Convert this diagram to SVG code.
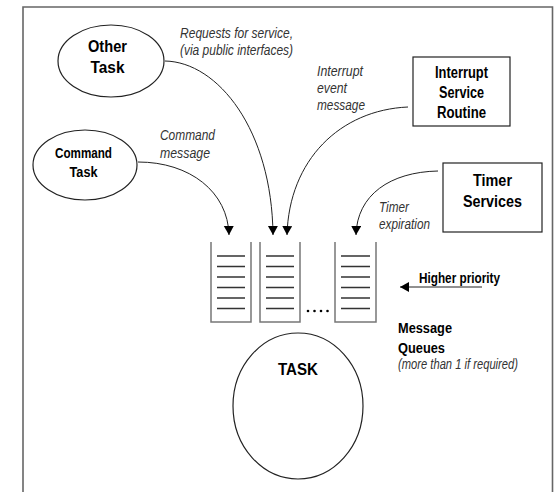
<svg xmlns="http://www.w3.org/2000/svg" width="554" height="492" viewBox="0 0 554 492">
  <defs>
    <marker id="head" markerUnits="userSpaceOnUse" markerWidth="10" markerHeight="12" refX="9" refY="5" orient="auto">
      <path d="M0,0 L9,5 L0,10 Z" fill="#000"/>
    </marker>
    <style>
      .frame { fill: none; stroke: #666; stroke-width: 1.6; }
      .node { fill: #fff; stroke: #222; stroke-width: 1.2; }
      .queue { fill: none; stroke: #777; stroke-width: 1.5; }
      .slot { stroke: #333; stroke-width: 1.3; }
      .conn { fill: none; stroke: #222; stroke-width: 1; marker-end: url(#head); }
      .bold { font-family: "Liberation Sans", Arial, sans-serif; font-weight: bold; fill: #000; }
      .note { font-family: "Liberation Sans", Arial, sans-serif; font-style: italic; fill: #333; font-size: 14.5px; }
    </style>
  </defs>
  <rect width="554" height="492" fill="#fff"/>
  <!-- outer frame, open at the bottom -->
  <path class="frame" d="M23,500 V7 H552.5 V500"/>

  <g id="other-task">
    <ellipse class="node" cx="111" cy="61" rx="53" ry="36"/>
    <text class="bold" font-size="16.5" text-anchor="middle" x="107.5" y="52" textLength="39" lengthAdjust="spacingAndGlyphs">Other</text>
    <text class="bold" font-size="16.5" text-anchor="middle" x="107.5" y="73" textLength="34" lengthAdjust="spacingAndGlyphs">Task</text>
  </g>

  <g id="command-task">
    <ellipse class="node" cx="85" cy="165" rx="52" ry="35"/>
    <text class="bold" font-size="15" text-anchor="middle" x="83.5" y="158" textLength="57" lengthAdjust="spacingAndGlyphs">Command</text>
    <text class="bold" font-size="15" text-anchor="middle" x="83.5" y="177" textLength="28" lengthAdjust="spacingAndGlyphs">Task</text>
  </g>

  <g id="isr">
    <rect class="node" x="413" y="57" width="97" height="69"/>
    <text class="bold" font-size="16" text-anchor="middle" x="461.5" y="78" textLength="53" lengthAdjust="spacingAndGlyphs">Interrupt</text>
    <text class="bold" font-size="16" text-anchor="middle" x="461.5" y="98" textLength="45" lengthAdjust="spacingAndGlyphs">Service</text>
    <text class="bold" font-size="16" text-anchor="middle" x="461.5" y="118" textLength="49" lengthAdjust="spacingAndGlyphs">Routine</text>
  </g>

  <g id="timer-services">
    <rect class="node" x="443" y="163" width="99" height="69"/>
    <text class="bold" font-size="17" text-anchor="middle" x="492.5" y="186" textLength="39" lengthAdjust="spacingAndGlyphs">Timer</text>
    <text class="bold" font-size="17" text-anchor="middle" x="492.5" y="207" textLength="59" lengthAdjust="spacingAndGlyphs">Services</text>
  </g>

  <g id="queues">
    <g id="queue-1">
      <path class="queue" d="M211,242 V322 H251 V242"/>
      <path class="slot" d="M217,256 H245 M217,266.5 H245 M217,277 H245 M217,287.5 H245 M217,298 H245 M217,308.5 H245"/>
    </g>
    <g id="queue-2">
      <path class="queue" d="M260,242 V322 H300 V242"/>
      <path class="slot" d="M266,256 H294 M266,266.5 H294 M266,277 H294 M266,287.5 H294 M266,298 H294 M266,308.5 H294"/>
    </g>
    <g id="queue-n">
      <path class="queue" d="M335,242 V322 H376 V242"/>
      <path class="slot" d="M341,256 H370 M341,266.5 H370 M341,277 H370 M341,287.5 H370 M341,298 H370 M341,308.5 H370"/>
    </g>
    <g fill="#000">
      <circle cx="308" cy="311" r="1.3"/>
      <circle cx="314.5" cy="311" r="1.3"/>
      <circle cx="321" cy="311" r="1.3"/>
      <circle cx="327.5" cy="311" r="1.3"/>
    </g>
  </g>

  <g id="task">
    <ellipse class="node" cx="298" cy="406" rx="65" ry="73"/>
    <text class="bold" font-size="16.5" text-anchor="middle" x="298" y="375" textLength="40" lengthAdjust="spacingAndGlyphs">TASK</text>
  </g>

  <g id="connectors">
    <path class="conn" d="M165,61 C218,62 272,130 273,235"/>
    <path class="conn" d="M138,162 C190,162 228,192 229,235"/>
    <path class="conn" d="M408,107 C340,110 289,160 287,235"/>
    <path class="conn" d="M438,171 C390,172 357,195 356,235"/>
    <path class="conn" d="M482,287 H400"/>
  </g>

  <g id="labels">
    <text class="note" x="180" y="38" textLength="113" lengthAdjust="spacingAndGlyphs">Requests for service,</text>
    <text class="note" x="180" y="55" textLength="113" lengthAdjust="spacingAndGlyphs">(via public interfaces)</text>
    <text class="note" x="160" y="140" textLength="55" lengthAdjust="spacingAndGlyphs">Command</text>
    <text class="note" x="160" y="158" textLength="50" lengthAdjust="spacingAndGlyphs">message</text>
    <text class="note" x="317" y="76" textLength="46" lengthAdjust="spacingAndGlyphs">Interrupt</text>
    <text class="note" x="317" y="93" textLength="30" lengthAdjust="spacingAndGlyphs">event</text>
    <text class="note" x="317" y="110" textLength="48" lengthAdjust="spacingAndGlyphs">message</text>
    <text class="note" x="379" y="212" textLength="30" lengthAdjust="spacingAndGlyphs">Timer</text>
    <text class="note" x="379" y="229" textLength="51" lengthAdjust="spacingAndGlyphs">expiration</text>
    <text class="bold" font-size="15" x="419" y="282.5" textLength="81" lengthAdjust="spacingAndGlyphs">Higher priority</text>
    <text class="bold" font-size="14.5" x="398" y="333" textLength="54" lengthAdjust="spacingAndGlyphs">Message</text>
    <text class="bold" font-size="14.5" x="398" y="353" textLength="47" lengthAdjust="spacingAndGlyphs">Queues</text>
    <text class="note" font-size="11.5" x="398" y="369" textLength="120" lengthAdjust="spacingAndGlyphs">(more than 1 if required)</text>
  </g>
</svg>
